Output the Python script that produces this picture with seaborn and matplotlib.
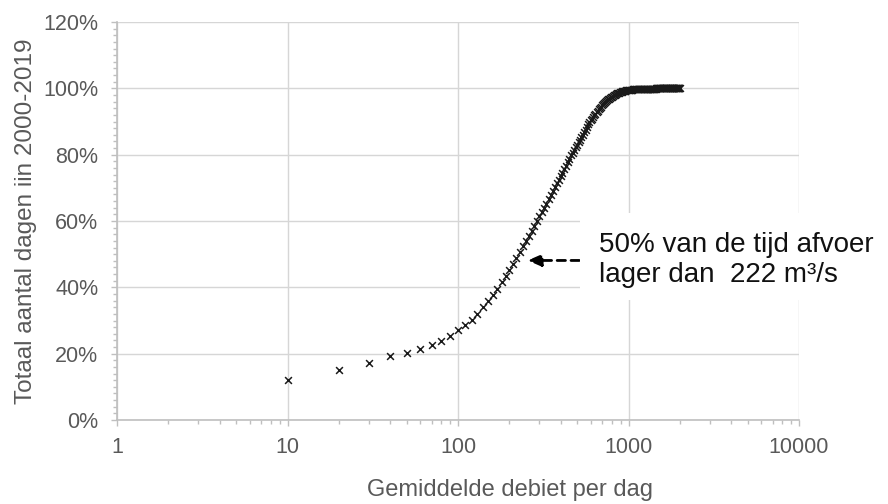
import matplotlib
matplotlib.use("Agg")
import matplotlib.pyplot as plt
import seaborn as sns
import pandas as pd
from matplotlib.ticker import PercentFormatter, LogLocator, FixedLocator, MultipleLocator, NullFormatter
from matplotlib.patches import Rectangle

# ---- data ----
debiet = [
    10, 20, 30, 40, 50, 60, 70, 80, 90, 100,
    110, 120, 130, 140, 150, 160, 170, 180, 190, 200,
    210, 220, 230, 240, 250, 260, 270, 280, 290, 300,
    310, 320, 330, 340, 350, 360, 370, 380, 390, 400,
    410, 420, 430, 440, 450, 460, 470, 480, 490, 500,
    510, 520, 530, 540, 550, 560, 570, 580, 590, 600,
    610, 620, 630, 640, 650, 660, 670, 680, 690, 700,
    710, 720, 730, 740, 750, 760, 770, 780, 790, 800,
    810, 820, 830, 840, 850, 860, 870, 880, 890, 900,
    910, 920, 930, 940, 950, 960, 970, 980, 990, 1000,
    1010, 1020, 1030, 1040, 1050, 1060, 1070, 1080, 1090, 1100,
    1110, 1120, 1130, 1140, 1150, 1160, 1170, 1180, 1190, 1200,
    1210, 1220, 1230, 1240, 1250, 1260, 1270, 1280, 1290, 1300,
    1310, 1320, 1330, 1340, 1350, 1360, 1370, 1380, 1390, 1400,
    1410, 1420, 1430, 1440, 1450, 1460, 1470, 1480, 1490, 1500,
    1510, 1520, 1530, 1540, 1550, 1560, 1570, 1580, 1590, 1600,
    1610, 1620, 1630, 1640, 1650, 1660, 1670, 1680, 1690, 1700,
    1710, 1720, 1730, 1740, 1750, 1760, 1770, 1780, 1790, 1800,
    1810, 1820, 1830, 1840, 1850, 1860, 1870, 1880, 1890, 1900,
    1910, 1920, 1930, 1940, 1950, 1960, 1970, 1980, 1990, 2000,
]
cumulatief_pct = [
    12.2, 15.0, 17.1, 19.3, 20.3, 21.3, 22.5, 23.8, 25.4, 27.0,
    28.7, 30.3, 32.1, 34.0, 35.9, 37.7, 39.6, 41.5, 43.4, 45.2,
    47.1, 48.9, 50.7, 52.4, 54.0, 55.6, 57.1, 58.6, 60.0, 61.4,
    62.7, 64.0, 65.2, 66.5, 67.8, 69.1, 70.3, 71.4, 72.4, 73.5,
    74.5, 75.6, 76.6, 77.7, 78.7, 79.8, 80.6, 81.4, 82.2, 82.9,
    83.7, 84.5, 85.2, 86.0, 86.8, 87.5, 88.3, 89.1, 89.8, 90.4,
    90.9, 91.4, 91.9, 92.3, 92.8, 93.2, 93.7, 94.1, 94.5, 94.9,
    95.2, 95.5, 95.8, 96.1, 96.4, 96.7, 96.9, 97.1, 97.3, 97.5,
    97.7, 97.9, 98.0, 98.2, 98.3, 98.5, 98.6, 98.7, 98.8, 98.9,
    99.0, 99.1, 99.2, 99.2, 99.3, 99.3, 99.4, 99.4, 99.5, 99.5,
    99.5, 99.6, 99.6, 99.6, 99.6, 99.7, 99.7, 99.7, 99.7, 99.7,
    99.8, 99.8, 99.8, 99.8, 99.8, 99.8, 99.8, 99.8, 99.8, 99.8,
    99.8, 99.8, 99.8, 99.8, 99.9, 99.9, 99.9, 99.9, 99.9, 99.9,
    99.9, 99.9, 99.9, 99.9, 99.9, 99.9, 99.9, 99.9, 99.9, 99.9,
    99.9, 99.9, 99.9, 99.9, 100.0, 100.0, 100.0, 100.0, 100.0, 100.0,
    100.0, 100.0, 100.0, 100.0, 100.0, 100.0, 100.0, 100.0, 100.0, 100.0,
    100.0, 100.0, 100.0, 100.0, 100.0, 100.0, 100.0, 100.0, 100.0, 100.0,
    100.0, 100.0, 100.0, 100.0, 100.0, 100.0, 100.0, 100.0, 100.0, 100.0,
    100.0, 100.0, 100.0, 100.0, 100.0, 100.0, 100.0, 100.0, 100.0, 100.0,
    100.0, 100.0, 100.0, 100.0, 100.0, 100.0, 100.0, 100.0, 100.0, 100.0,
]
x_ticks = [1, 10, 100, 1000, 10000]
x_ticklabels = ["1", "10", "100", "1000", "10000"]
y_ticks = [0, 20, 40, 60, 80, 100, 120]

x_label = "Gemiddelde debiet per dag"
y_label = "Totaal aantal dagen iin 2000-2019"
note_lines = ["50% van de tijd afvoer", "lager dan  222 m³/s"]
arrow_tip = (256, 48.1)
arrow_tail = (515, 48.1)

# ---- styling ----
sns.set_style("white")
plt.rcParams["font.family"] = ["Liberation Sans", "DejaVu Sans"]
GRID = "#d6d6d6"
SPINE = "#bfbfbf"
TXT = "#595959"

df = pd.DataFrame({"debiet": debiet, "pct": cumulatief_pct})

fig = plt.figure(figsize=(8.88, 5.04), dpi=100)
ax = fig.add_axes([117 / 888, 1 - 420 / 504, (799 - 117) / 888, (420 - 22) / 504])

sns.scatterplot(data=df, x="debiet", y="pct", marker="x", color="#1a1a1a",
                s=24, linewidth=1.1, ax=ax, zorder=3)

ax.set_xscale("log")
ax.set_xlim(1, 10000)
ax.set_ylim(0, 120)
ax.xaxis.set_major_locator(FixedLocator(x_ticks))
ax.set_xticklabels(x_ticklabels)
ax.xaxis.set_minor_locator(LogLocator(base=10, subs=range(2, 10), numticks=20))
ax.xaxis.set_minor_formatter(NullFormatter())
ax.yaxis.set_major_locator(FixedLocator(y_ticks))
ax.yaxis.set_minor_locator(MultipleLocator(2))
ax.yaxis.set_major_formatter(PercentFormatter(decimals=0))

ax.grid(True, which="major", color=GRID, linewidth=1.0)
ax.grid(False, which="minor")
ax.set_axisbelow(True)
for s in ["top", "right"]:
    ax.spines[s].set_visible(False)
for s in ["left", "bottom"]:
    ax.spines[s].set_color(SPINE)
    ax.spines[s].set_linewidth(1.2)

ax.tick_params(axis="both", which="both", bottom=True, left=True, top=False, right=False)
ax.tick_params(axis="both", which="major", direction="out", length=4, width=1,
               color=SPINE, labelcolor=TXT, labelsize=15.5)
ax.tick_params(axis="both", which="minor", direction="out", length=3, width=1,
               color=SPINE)
ax.tick_params(axis="y", which="major", pad=9.5)
ax.tick_params(axis="x", which="major", pad=8)

ax.set_xlabel(x_label, fontsize=17, color=TXT, va="center")
ax.xaxis.set_label_coords((510 - 117) / 682, (420 - 490) / 398)
ax.set_ylabel(y_label, fontsize=17.5, color=TXT, va="center")
ax.yaxis.set_label_coords((26 - 117) / 682, 0.5)

# white box behind annotation text
fig.patches.append(Rectangle((580 / 888, 1 - 300 / 504), 300 / 888, 87 / 504,
                             transform=fig.transFigure, facecolor="white",
                             edgecolor="none", zorder=1))

ax.annotate("", xy=arrow_tip, xytext=arrow_tail,
            arrowprops=dict(arrowstyle="-|>,head_length=0.8,head_width=0.35",
                            linestyle=(0, (3, 2)), color="black", lw=2,
                            shrinkA=0, shrinkB=0),
            annotation_clip=False, zorder=4)

fig.text(599 / 888, 1 - 260 / 504, "\n".join(note_lines), fontsize=20,
         color="#111111", va="center", ha="left", linespacing=1.25, zorder=2)

fig.savefig("out.png", dpi=100)
